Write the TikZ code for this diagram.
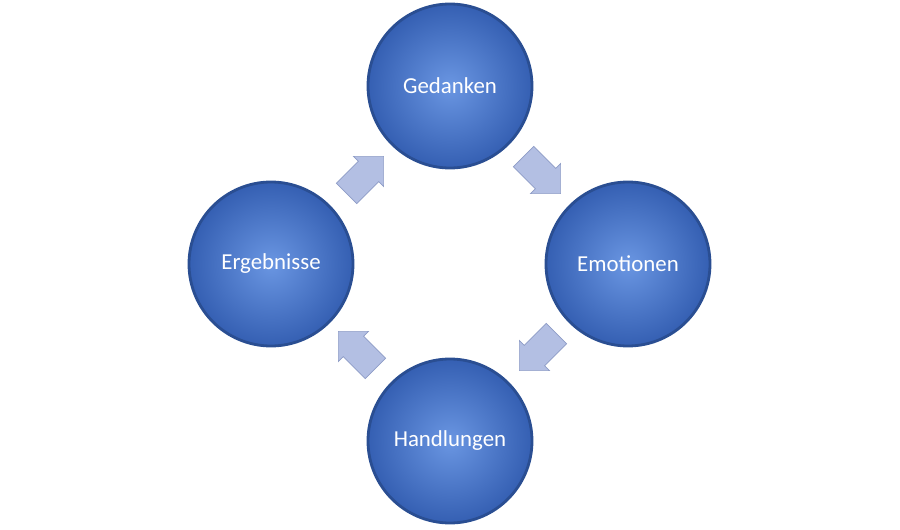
\documentclass[tikz,border=0pt]{standalone}
\usepackage{fontspec}
\setmainfont{Carlito}
\usetikzlibrary{shapes.arrows, positioning}
\definecolor{KreisBlau}{HTML}{3E70D2}
\definecolor{KreisHell}{HTML}{6A96E2}
\definecolor{KreisRand}{HTML}{2A4E92}
\definecolor{PfeilBlau}{HTML}{B3BFE3}
\definecolor{PfeilRand}{HTML}{8E9CC6}

\tikzset{
  kreis/.style={circle, minimum size=3.28cm, draw=KreisRand, line width=1.6pt,
    inner color=KreisHell, outer color=KreisBlau!85!black, text=white,
    font=\fontsize{13}{15}\selectfont},
  pfeil/.style={single arrow, draw=PfeilRand, fill=PfeilBlau, minimum height=1.05cm,
    inner xsep=0.2cm, inner ysep=0.28cm, single arrow head extend=0.14cm,
    single arrow head indent=0pt}
}

\begin{document}
\begin{tikzpicture}
  \useasboundingbox (0,0) rectangle (18,10.58);
  % Kreise
  \node[kreis] (ged) at (9, 8.86) {Gedanken};
  \node[kreis] (emo) at (12.56, 5.3) {Emotionen};
  \node[kreis] (han) at (9, 1.76) {Handlungen};
  \node[kreis] (erg) at (5.42, 5.3) {Ergebnisse};

  % Pfeile
  \node[pfeil, rotate=-45] (p1) at (10.74, 7.18) {};
  \node[pfeil, rotate=-135] (p2) at (10.86, 3.64) {};
  \node[pfeil, rotate=135] (p3) at (7.24, 3.48) {};
  \node[pfeil, rotate=45] (p4) at (7.2, 6.98) {};
\end{tikzpicture}
\end{document}
